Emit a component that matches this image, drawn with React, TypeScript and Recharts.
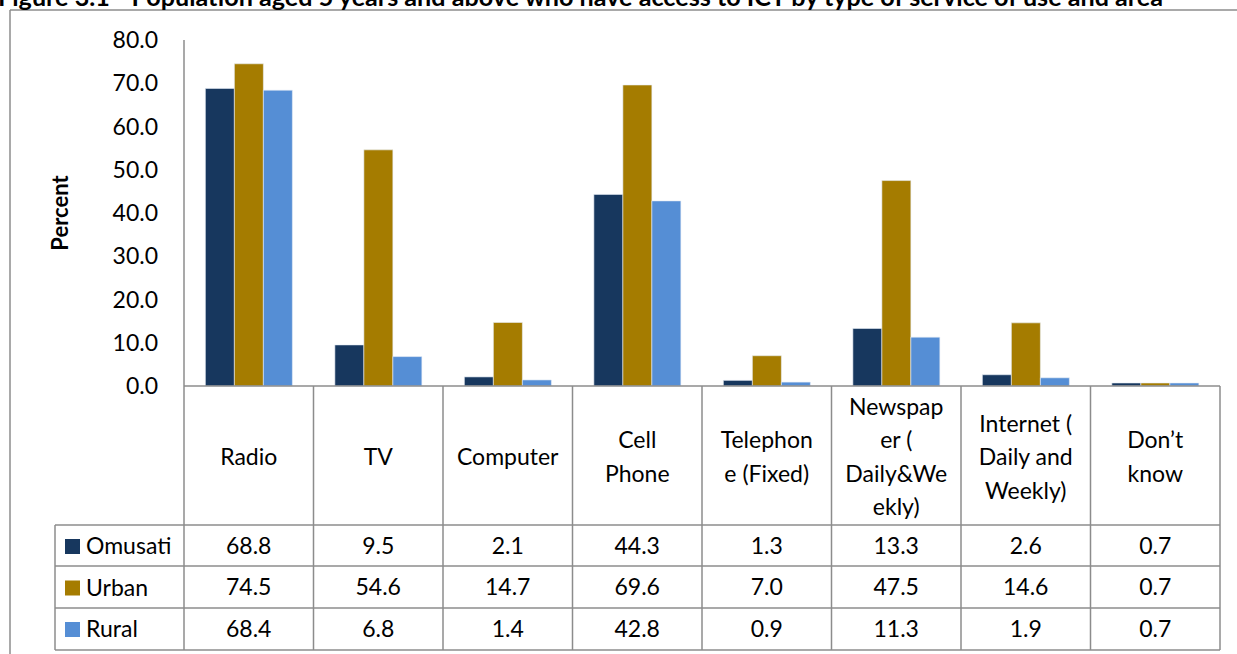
import React from 'react';
import { BarChart, Bar, XAxis, YAxis } from 'recharts';

const categories = ['Radio', 'TV', 'Computer', 'Cell Phone', 'Telephone (Fixed)', 'Newspaper ( Daily&Weekly)', 'Internet ( Daily and Weekly)', 'Don’t know'];
const headerLines: string[][] = [
  ['Radio'],
  ['TV'],
  ['Computer'],
  ['Cell', 'Phone'],
  ['Telephon', 'e (Fixed)'],
  ['Newspap', 'er (', 'Daily&We', 'ekly)'],
  ['Internet (', 'Daily and', 'Weekly)'],
  ['Don’t', 'know'],
];
const seriesNames = ['Omusati', 'Urban', 'Rural'];
const omusati = [68.8, 9.5, 2.1, 44.3, 1.3, 13.3, 2.6, 0.7];
const urban = [74.5, 54.6, 14.7, 69.6, 7.0, 47.5, 14.6, 0.7];
const rural = [68.4, 6.8, 1.4, 42.8, 0.9, 11.3, 1.9, 0.7];
const yTicks = [0, 10, 20, 30, 40, 50, 60, 70, 80];
const title = 'Figure 3.1 - Population aged 5 years and above who have access to ICT by type of service of use and area';

const seriesValues = [omusati, urban, rural];
const colors = ['#17375E', '#A57C00', '#558ED5'];
const data = categories.map((c, i) => ({ name: c, Omusati: omusati[i], Urban: urban[i], Rural: rural[i] }));

const W = 1237;
const H = 654;
const plotLeft = 184;
const plotRight = 1220;
const bw = (plotRight - plotLeft) / categories.length;
const grid = '#8C8C8C';
const font = 'Lato, "Open Sans", sans-serif';
const fs = 23;
const rowLines = [525, 566, 608, 650];

const TableTick = (props: any) => {
  const { x, y, index } = props;
  const lines = headerLines[index] || [];
  const lh = 33.5;
  const cy = y + 71;
  const rowCenters = [546, 587, 629].map((v) => v - 386 + y);
  return (
    <g>
      <line x1={x - bw / 2} x2={x - bw / 2} y1={y} y2={y + 264} stroke={grid} strokeWidth={1.5} />
      {index === categories.length - 1 && (
        <line x1={x + bw / 2} x2={x + bw / 2} y1={y} y2={y + 264} stroke={grid} strokeWidth={1.5} />
      )}
      {lines.map((l, k) => (
        <text key={k} x={x} y={cy + (k - (lines.length - 1) / 2) * lh} dy={8} textAnchor="middle" fontFamily={font} fontSize={fs} fill="#000">
          {l}
        </text>
      ))}
      {seriesValues.map((arr, r) => (
        <text key={'v' + r} x={x} y={rowCenters[r]} dy={8} textAnchor="middle" fontFamily={font} fontSize={fs} fill="#000">
          {arr[index].toFixed(1)}
        </text>
      ))}
    </g>
  );
};

export default function App() {
  return (
    <div style={{ position: 'absolute', left: 0, top: 0, width: W, height: H, overflow: 'hidden', background: '#fff' }}>
      <BarChart
        width={W}
        height={H}
        data={data}
        margin={{ top: 40, right: W - plotRight, bottom: 0, left: 120 }}
        barCategoryGap="16.5%"
        barGap={0}
      >
        <YAxis
          width={64}
          domain={[0, 80]}
          ticks={yTicks}
          interval={0}
          tickLine={false}
          tickSize={0}
          tickMargin={26}
          axisLine={{ stroke: grid, strokeWidth: 1.5 }}
          tick={{ fontFamily: font, fontSize: fs, fill: '#000' }}
          tickFormatter={(v: number) => v.toFixed(1)}
        />
        <XAxis
          dataKey="name"
          height={268}
          interval={0}
          tickLine={false}
          tickSize={0}
          tickMargin={0}
          axisLine={{ stroke: grid, strokeWidth: 1.5 }}
          tick={<TableTick />}
        />
        {seriesNames.map((s, i) => (
          <Bar key={s} dataKey={s} fill={colors[i]} stroke="#E8EEF6" strokeWidth={0.6} isAnimationActive={false} />
        ))}
      </BarChart>
      <svg width={W} height={H} style={{ position: 'absolute', left: 0, top: 0, pointerEvents: 'none' }}>
        <line x1={10} x2={W} y1={10} y2={10} stroke={grid} strokeWidth={1.5} />
        <line x1={10} x2={10} y1={10} y2={H} stroke={grid} strokeWidth={1.5} />
        <text x={-2} y={6} fontFamily={font} fontWeight="bold" fontSize={25} textLength={1165} lengthAdjust="spacingAndGlyphs" fill="#000">{title}</text>
        <text x={0} y={0} transform="translate(68,213) rotate(-90)" textAnchor="middle" fontFamily={font} fontWeight="bold" fontSize={22} fill="#000">Percent</text>
        {rowLines.map((yy) => (
          <line key={yy} x1={55} x2={plotRight} y1={yy} y2={yy} stroke={grid} strokeWidth={1.5} />
        ))}
        <line x1={55} x2={55} y1={525} y2={650} stroke={grid} strokeWidth={1.5} />
        {seriesNames.map((s, i) => (
          <g key={s}>
            <rect x={65} y={539 + i * 41.5} width={15} height={15} fill={colors[i]} />
            <text x={86} y={546 + i * 41.5} dy={8} fontFamily={font} fontSize={fs} fill="#000">{s}</text>
          </g>
        ))}
      </svg>
    </div>
  );
}
